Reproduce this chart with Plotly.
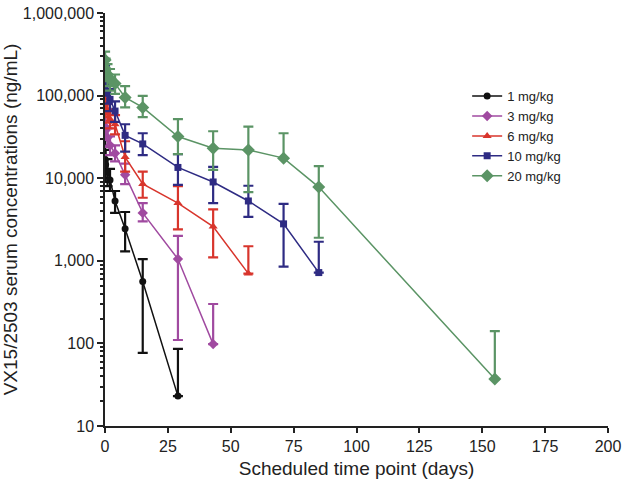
import plotly.graph_objects as go

# dose groups
labels = ["1 mg/kg", "3 mg/kg", "6 mg/kg", "10 mg/kg", "20 mg/kg"]

days_1 = [0.04, 0.25, 1, 2, 4, 8, 15, 29]
conc_1 = [17000, 14500, 12000, 9500, 5300, 2450, 560, 23]
hi_1 = [30000, 22000, 17000, 13000, 7000, 3900, 1050, 86]
lo_1 = [10000, 9000, 8000, 7000, 3800, 1300, 77, 23]

days_3 = [0.04, 0.25, 1, 2, 4, 8, 15, 29, 43]
conc_3 = [42000, 38000, 31000, 25000, 20000, 11000, 3800, 1050, 98]
hi_3 = [55000, 48000, 40000, 32000, 25000, 15000, 5000, 2000, 300]
lo_3 = [32000, 29000, 24000, 19000, 16000, 8500, 3000, 110, 98]

days_6 = [0.04, 0.25, 1, 2, 4, 8, 15, 29, 43, 57]
conc_6 = [80000, 72000, 62000, 52000, 45000, 18000, 8500, 5000, 2600, 700]
hi_6 = [100000, 92000, 80000, 68000, 58000, 28000, 12000, 8000, 4200, 1500]
lo_6 = [60000, 55000, 47000, 40000, 34000, 12000, 5800, 2400, 1100, 700]

days_10 = [0.04, 0.25, 1, 2, 4, 8, 15, 29, 43, 57, 71, 85]
conc_10 = [170000, 140000, 110000, 90000, 65000, 33000, 26000, 13500, 9000, 5300, 2800, 720]
hi_10 = [230000, 190000, 150000, 120000, 85000, 45000, 35000, 19600, 13700, 8100, 4900, 1700]
lo_10 = [120000, 100000, 80000, 65000, 48000, 21000, 19000, 8300, 5000, 3400, 850, 720]

days_20 = [0.04, 0.25, 1, 2, 4, 8, 15, 29, 43, 57, 71, 85, 155]
conc_20 = [270000, 210000, 180000, 160000, 140000, 95000, 72000, 32000, 23000, 22000, 17500, 7800, 37]
hi_20 = [340000, 280000, 240000, 210000, 180000, 130000, 99000, 52000, 37000, 42000, 35000, 14000, 141]
lo_20 = [200000, 150000, 130000, 115000, 105000, 72000, 55000, 19600, 12600, 6800, 17500, 1900, 37]

ytick_vals = [10, 100, 1000, 10000, 100000, 1000000]
ytick_text = ["10", "100", "1,000", "10,000", "100,000", "1,000,000"]

groups = [
    (days_1, conc_1, hi_1, lo_1, "#111111", "circle", 7),
    (days_3, conc_3, hi_3, lo_3, "#a04aa0", "diamond", 8),
    (days_6, conc_6, hi_6, lo_6, "#d8352c", "triangle-up", 8),
    (days_10, conc_10, hi_10, lo_10, "#2e2b83", "square", 7),
    (days_20, conc_20, hi_20, lo_20, "#5b9465", "diamond", 10),
]

fig = go.Figure()
for name, (x, y, hi, lo, col, sym, sz) in zip(labels, groups):
    fig.add_trace(go.Scatter(
        x=x, y=y, name=name, mode="lines+markers",
        line=dict(color=col, width=1.5),
        marker=dict(color=col, symbol=sym, size=sz),
        error_y=dict(type="data", symmetric=False,
                     array=[h - v for h, v in zip(hi, y)],
                     arrayminus=[v - l for l, v in zip(lo, y)],
                     color=col, thickness=2.2, width=5),
    ))

fig.update_layout(
    width=626, height=481,
    margin=dict(l=105, r=18, t=13, b=55),
    paper_bgcolor="white", plot_bgcolor="white",
    font=dict(family="Liberation Sans, Arial, sans-serif", size=16, color="#222"),
    showlegend=True,
    legend=dict(x=0.72, y=0.835, xanchor="left", yanchor="top",
                font=dict(size=13), tracegroupgap=0, itemwidth=30,
                bgcolor="rgba(0,0,0,0)"),
    xaxis=dict(range=[0, 200], dtick=25, showline=True, linecolor="#222", linewidth=1.5,
               ticks="outside", ticklen=5, tickwidth=1.5, tickcolor="#222",
               showgrid=False, zeroline=False, automargin=False,
               title=dict(text="Scheduled time point (days)", standoff=8)),
    yaxis=dict(type="log", range=[1, 6], tickvals=ytick_vals, ticktext=ytick_text,
               showline=True, linecolor="#222", linewidth=1.5,
               ticks="outside", ticklen=6, tickwidth=1.5, tickcolor="#222",
               minor=dict(ticks="outside", ticklen=3, tickcolor="#222", dtick="D1"),
               showgrid=False, zeroline=False, automargin=False,
               title=dict(text="VX15/2503 serum concentrations (ng/mL)", standoff=1,
                          font=dict(size=19))),
)

# page body has a default 8px margin; drop it so the figure sits at the corner
fig.write_html("out.html", config={"displayModeBar": False},
               post_script="document.body.style.margin='0';")
